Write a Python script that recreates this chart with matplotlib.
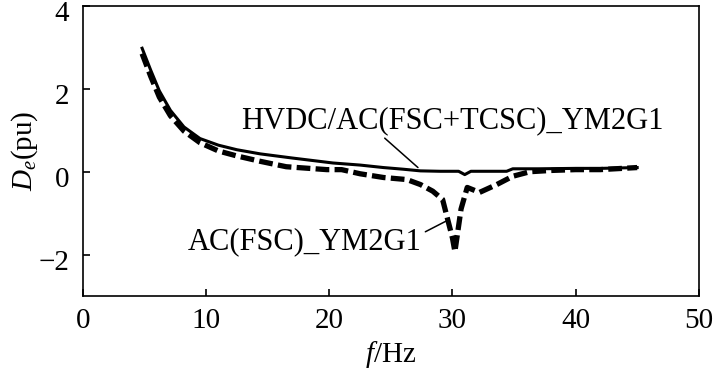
import matplotlib
matplotlib.use("Agg")
import matplotlib.pyplot as plt
import matplotlib.transforms as mtransforms

plt.rcParams['font.family'] = ['Liberation Serif', 'DejaVu Serif']
plt.rcParams['mathtext.fontset'] = 'custom'
plt.rcParams['mathtext.rm'] = 'Liberation Serif'
plt.rcParams['mathtext.it'] = 'Liberation Serif:italic'

# HVDC/AC(FSC+TCSC)_YM2G1 (solid)
f_tcsc = [4.8, 5.5, 6.2, 7.1, 8.2, 9.5, 11, 12.5, 14.4, 17, 20.3, 22.5, 24.4,
          26, 27.4, 29, 30.5, 31, 31.5, 33, 34.4, 34.9, 37, 40, 42, 45]
de_tcsc = [2.98, 2.45, 1.95, 1.48, 1.08, 0.8, 0.64, 0.53, 0.43, 0.33, 0.21,
           0.16, 0.1, 0.06, 0.02, 0.01, 0.01, -0.07, 0.01, 0.01, 0.01, 0.07,
           0.07, 0.08, 0.08, 0.1]

# AC(FSC)_YM2G1 (dashed)
f_fsc = [4.8, 5.5, 6.2, 7.1, 8.2, 9.5, 11, 12.5, 14.4, 16.5, 19.8, 21, 22.5,
         24.4, 26.3, 27.4, 28.4, 29.2, 29.5, 30, 30.2, 30.7, 31.2, 32.2, 33.6,
         34.9, 36.3, 38, 40, 42, 45]
de_fsc = [2.85, 2.3, 1.8, 1.35, 0.98, 0.7, 0.5, 0.38, 0.25, 0.12, 0.05, 0.05,
          -0.05, -0.14, -0.19, -0.31, -0.47, -0.67, -1.02, -1.6, -1.93, -0.9,
          -0.38, -0.5, -0.31, -0.11, 0.0, 0.03, 0.05, 0.05, 0.1]

fs = 21

fig = plt.figure(figsize=(7.13, 3.74), dpi=100)
ax = fig.add_axes([0.1164, 0.2086, 0.8636, 0.7754])

ax.plot(f_tcsc, de_tcsc, color='black', lw=2.2, solid_joinstyle='round')
ax.plot(f_fsc, de_fsc, color='black', lw=3.8, linestyle=(0, (2.6, 1.0)))

ax.set_xlim(0, 50)
ax.set_ylim(-3, 4)
ax.set_xticks([0, 10, 20, 30, 40, 50])
ax.set_yticks([-2, 0, 2, 4])
ax.tick_params(direction='in', labelsize=fs, length=5, width=1.2)
ax.tick_params(axis='x', pad=9)
ax.tick_params(axis='y', pad=10)
for s in ax.spines.values():
    s.set_linewidth(1.2)

# y tick labels sit a little below their ticks in the original
shift = mtransforms.ScaledTranslation(0, -0.05, fig.dpi_scale_trans)
for lab in ax.get_yticklabels():
    lab.set_transform(lab.get_transform() + shift)

ax.set_xlabel('$f$/Hz', fontsize=fs, labelpad=3)
ax.set_ylabel('$D_e$(pu)', fontsize=fs, labelpad=-1)

ax.text(30.0, 1.24, 'HVDC/AC(FSC+TCSC)_YM2G1', fontsize=22,
        ha='center', va='center')
ax.annotate('', xy=(27.2, 0.1), xytext=(24.5, 0.81),
            arrowprops=dict(arrowstyle='-', lw=1.1, color='black',
                            shrinkA=0, shrinkB=0))
ax.text(18.0, -1.69, 'AC(FSC)_YM2G1', fontsize=22,
        ha='center', va='center')
ax.annotate('', xy=(29.5, -1.19), xytext=(27.8, -1.45),
            arrowprops=dict(arrowstyle='-', lw=1.1, color='black',
                            shrinkA=0, shrinkB=0))

fig.savefig('out.png', dpi=100)
